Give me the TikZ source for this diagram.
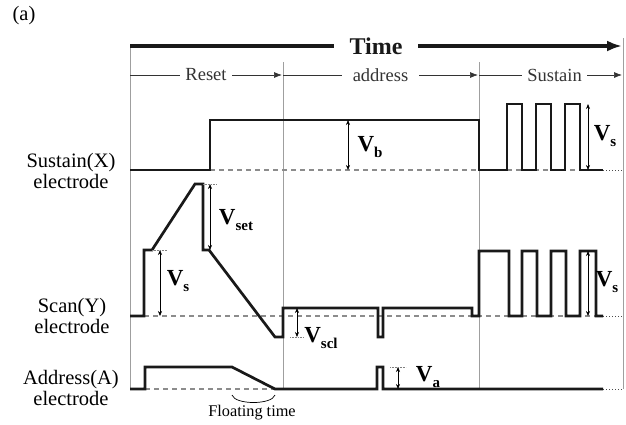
\documentclass[tikz,border=0pt]{standalone}
\usepackage{fontspec}
\setmainfont{Liberation Serif}
\usetikzlibrary{arrows.meta}
\newcommand{\voltlab}[1]{\textbf{V}\raisebox{-0.5ex}{\fontsize{15}{15}\selectfont\textbf{#1}}}

\begin{document}
\begin{tikzpicture}[x=1pt, y=-1pt,
  every node/.style={font=\fontsize{20.5}{21}\selectfont},
  grid/.style={gray!75, line width=0.7pt},
  wave/.style={line width=2.7pt, black!90},
  base/.style={gray!90, line width=1.2pt, dash pattern=on 5pt off 4pt},
  tail/.style={black!70, line width=1pt, dotted},
  meas/.style={{Stealth[length=5pt,width=4pt]}-{Stealth[length=5pt,width=4pt]}, line width=0.6pt},
  tick/.style={gray, line width=0.6pt, densely dotted},
  phase/.style={-{Latex[length=8pt,width=6pt]}, line width=0.7pt, black!80},
  timearr/.style={-{Latex[length=15pt,width=11pt]}, line width=3.6pt, black!90},
  volt/.style={font=\fontsize{23}{23}\selectfont, inner sep=0pt}
]
  \useasboundingbox (0,0) rectangle (626,424);

  \node (tag) at (24,16) {(a)};

  % phase boundaries
  \draw[grid] (130,44) -- (130,389);
  \draw[grid] (283,62) -- (283,389);
  \draw[grid] (479,62) -- (479,389);
  \draw[grid] (623,38) -- (623,389);

  % time axis and phases
  \coordinate (t0) at (130,46);
  \coordinate (t1) at (622,46);
  \draw[timearr] (t0) -- node[fill=white, inner xsep=16pt, font=\bfseries\fontsize{24}{24}\selectfont] (time) {Time} (t1);

  \coordinate (p0) at (130,75);
  \coordinate (p1) at (282,75);
  \coordinate (p2) at (283,75);
  \coordinate (p3) at (478,75);
  \coordinate (p4) at (479,75);
  \coordinate (p5) at (622,75);
  \draw[phase] (p0) -- node[fill=white, inner xsep=5pt, font=\fontsize{18.5}{19}\selectfont] (reset) {Reset} (p1);
  \draw[phase] (p2) -- node[fill=white, inner xsep=11pt, font=\fontsize{18.5}{19}\selectfont] (addr) {address} (p3);
  \draw[phase] (p4) -- node[pos=0.528, fill=white, inner xsep=5pt, font=\fontsize{18.5}{19}\selectfont] (sus) {Sustain} (p5);

  % electrode names
  \node[align=center] (labX) at (71,171) {Sustain(X)\\electrode};
  \node[align=center] (labY) at (72,316) {Scan(Y)\\electrode};
  \node[align=center] (labA) at (71,388) {Address(A)\\electrode};

  % ground levels
  \draw[base] (210,170) -- (603,170);
  \draw[base] (144,316) -- (603,316);
  \draw[base] (145,389) -- (275,389);
  \draw[tail] (603,170) -- (623,170);
  \draw[tail] (603,316) -- (623,316);
  \draw[tail] (603,389) -- (623,389);

  % sustain (X)
  \draw[wave] (130,170) -- (210,170) -- (210,120) -- (479,120) -- (479,170) -- (507,170)
    -- (507,104) -- (522,104) -- (522,170) -- (536,170) -- (536,104) -- (551,104) -- (551,170)
    -- (565,170) -- (565,104) -- (580,104) -- (580,170) -- (603,170);

  % scan (Y)
  \draw[wave] (130,316) -- (144,316) -- (144,250) -- (152,250) -- (195,184) -- (203,184)
    -- (203,250) -- (209,250) -- (275,337) -- (283,337) -- (283,308) -- (378,308) -- (378,337)
    -- (383,337) -- (383,308) -- (472,308) -- (472,316) -- (479,316) -- (479,251) -- (509,251)
    -- (509,316) -- (522,316) -- (522,251) -- (537,251) -- (537,316) -- (551,316) -- (551,251)
    -- (566,251) -- (566,316) -- (580,316) -- (580,251) -- (596,251) -- (596,316) -- (603,316);

  % address (A)
  \draw[wave] (130,389) -- (145,389) -- (145,367) -- (232,367) -- (275,389) -- (377,389)
    -- (377,367) -- (383,367) -- (383,389) -- (603,389);

  % voltage marks
  \coordinate (vbT) at (348,120);  \coordinate (vbB) at (348,170);
  \coordinate (vxT) at (588,104);  \coordinate (vxB) at (588,170);
  \coordinate (vsetT) at (210,184); \coordinate (vsetB) at (210,250);
  \coordinate (vsT) at (160,250);  \coordinate (vsB) at (160,316);
  \coordinate (vsclT) at (297,308); \coordinate (vsclB) at (297,337);
  \coordinate (vyT) at (588,251);  \coordinate (vyB) at (588,316);
  \coordinate (vaT) at (398,367);  \coordinate (vaB) at (398,389);
  \draw[meas] (vbT) -- (vbB);
  \draw[meas] (vxT) -- (vxB);
  \draw[meas] (vsetT) -- (vsetB);
  \draw[meas] (vsT) -- (vsB);
  \draw[meas] (vsclT) -- (vsclB);
  \draw[meas] (vyT) -- (vyB);
  \draw[meas] (vaT) -- (vaB);
  \draw[tick] (203,184) -- (217,184);
  \draw[tick] (152,250) -- (167,250);
  \draw[tick] (290,337) -- (304,337);
  \draw[tick] (390,367) -- (406,367);

  \node[volt] (vb) at (370,147) {\voltlab{b}};
  \node[volt] (vx) at (605,136) {\voltlab{s}};
  \node[volt] (vset) at (236,220) {\voltlab{set}};
  \node[volt] (vs) at (178,281) {\voltlab{s}};
  \node[volt] (vscl) at (321,338) {\voltlab{scl}};
  \node[volt] (vy) at (607,282) {\voltlab{s}};
  \node[volt] (va) at (428,377) {\voltlab{a}};

  % floating interval
  \coordinate (fl0) at (232,395);
  \coordinate (fl1) at (275,395);
  \draw[line width=0.7pt] (fl0) .. controls (235,405) and (272,405) .. (fl1);
  \node[font=\fontsize{16.3}{17}\selectfont] (float) at (252,413) {Floating time};
\end{tikzpicture}
\end{document}
